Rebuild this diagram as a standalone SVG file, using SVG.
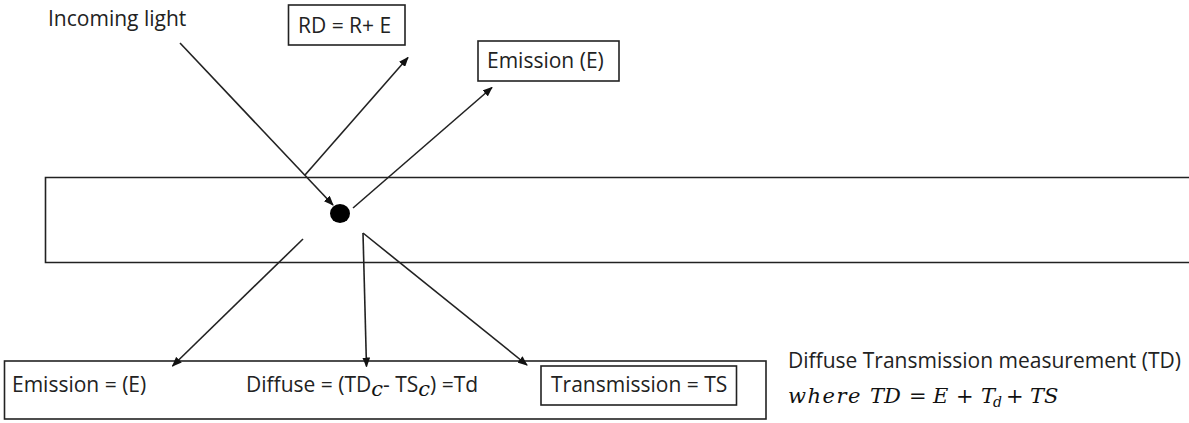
<svg xmlns="http://www.w3.org/2000/svg" width="1189" height="423" viewBox="0 0 1189 423">
<style>
.t{font-family:"Open Sans","Liberation Sans",sans-serif;font-size:21px;fill:#222}
.m{font-family:"DejaVu Serif","Liberation Serif",serif;font-size:21px;fill:#111}
.i{font-style:italic}
.box{fill:#fff;stroke:#222;stroke-width:1.6}
.ln{fill:none;stroke:#222;stroke-width:1.6}
</style>
<defs>
<marker id="ah" markerUnits="userSpaceOnUse" markerWidth="10" markerHeight="8" refX="9" refY="4" orient="auto">
<path d="M0,0 L10,4 L0,8 Z" fill="#111"/>
</marker>
</defs>
<rect width="1189" height="423" fill="#fff"/>
<g id="slab"><path class="ln" d="M1189,177.5 H45.5 V262.5 H1189"/></g>
<g id="incoming-light"><text class="t" x="48" y="26">Incoming light</text></g>
<g id="rd-box"><rect class="box" x="288.5" y="5" width="116.5" height="40"/><text class="t" x="298" y="33">RD = R+ E</text></g>
<g id="emission-box"><rect class="box" x="478" y="41" width="141" height="40"/><text class="t" x="487" y="68">Emission (E)</text></g>
<g id="particle"><ellipse cx="340" cy="213.5" rx="10" ry="9.5" fill="#000"/></g>
<g id="bottom-box"><rect class="box" x="4.5" y="361" width="761.5" height="58"/></g>
<g id="emission-eq"><text class="t" x="12" y="392">Emission = (E)</text></g>
<g id="diffuse-eq"><text class="t" x="246" y="392">Diffuse = (TD<tspan class="m i" font-size="15" dy="4">c</tspan><tspan dy="-4">- TS</tspan><tspan class="m i" font-size="15" dy="4">c</tspan><tspan dy="-4">) =Td</tspan></text></g>
<g id="transmission-box"><rect class="box" x="541" y="366" width="195.5" height="39"/><text class="t" x="551" y="392">Transmission = TS</text></g>
<g id="td-note"><text class="t" x="788" y="368" font-size="20.5">Diffuse Transmission measurement (TD)</text>
<text class="m" y="403"><tspan class="i" x="788" letter-spacing="1.5">where</tspan><tspan class="i" x="870">TD</tspan><tspan x="909">=</tspan><tspan class="i" x="933">E</tspan><tspan x="956">+</tspan><tspan class="i" x="981">T</tspan><tspan class="i" font-size="14" x="993" dy="4">d</tspan><tspan x="1006" dy="-4">+</tspan><tspan class="i" x="1030">TS</tspan></text></g>
<g id="connectors">
<line class="ln" x1="180" y1="43" x2="333" y2="205" marker-end="url(#ah)"/>
<line class="ln" x1="305" y1="175" x2="408" y2="57.5" marker-end="url(#ah)"/>
<line class="ln" x1="353" y1="208" x2="492" y2="87.5" marker-end="url(#ah)"/>
<line class="ln" x1="303" y1="239" x2="172.5" y2="366" marker-end="url(#ah)"/>
<line class="ln" x1="363" y1="233" x2="366.5" y2="366.5" marker-end="url(#ah)"/>
<line class="ln" x1="363" y1="233" x2="527" y2="365" marker-end="url(#ah)"/>
</g>
</svg>
